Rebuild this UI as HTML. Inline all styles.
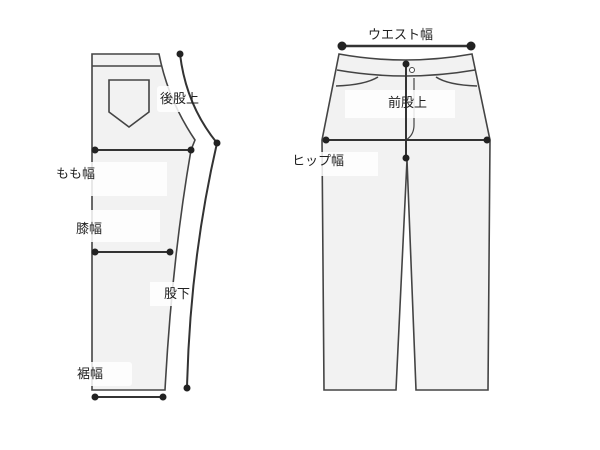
<!DOCTYPE html>
<html><head><meta charset="utf-8"><style>
html,body{margin:0;padding:0;background:#fff;width:600px;height:450px;overflow:hidden}
text{font-family:"Liberation Sans","Noto Sans CJK JP",sans-serif;font-size:13px;fill:#222}
</style></head><body>
<svg width="600" height="450" viewBox="0 0 600 450" xmlns="http://www.w3.org/2000/svg">
<g stroke="#444" stroke-width="1.6" fill="#f2f2f2">
<path d="M92,54 L159,54 Q168,100 195,140 L191,150 Q172,260 165,390 L92,390 Z"/>
<line x1="92" y1="66" x2="161" y2="66"/>
<path d="M109,80 L149,80 L149,112 L129,127 L109,112 Z" fill="none"/>
<path d="M339,54 Q405,66 472,54 L490,140 L488,390 L416,390 L407,160 L396,390 L324,390 L322,140 Z"/>
<path d="M337,70 Q405,82 475,70" fill="none"/>
<path d="M336,86 Q365,85 378,77" fill="none"/>
<path d="M436,77 Q448,85 477,86" fill="none"/>
<path d="M414,78 L414,125 Q414,135 406,140" fill="none" stroke-width="1.2"/>
<circle cx="412" cy="70" r="2.5" fill="#fff" stroke-width="1"/>
</g>
<g fill="#fff" opacity="0.85">
<rect x="157" y="86" width="88" height="26" rx="3"/>
<rect x="55" y="162" width="112" height="34"/>
<rect x="60" y="210" width="100" height="32"/>
<rect x="150" y="282" width="42" height="24"/>
<rect x="62" y="362" width="70" height="24" rx="3"/>
<rect x="345" y="90" width="110" height="28"/>
<rect x="288" y="152" width="90" height="24"/>
</g>
<g stroke="#333" stroke-width="2" fill="none">
<path d="M180,54 Q186,105 217,143 Q190,260 187,388"/>
<line x1="95" y1="150" x2="191" y2="150"/>
<line x1="95" y1="252" x2="170" y2="252"/>
<line x1="95" y1="397" x2="163" y2="397"/>
<line x1="342" y1="46" x2="471" y2="46" stroke-width="2.5"/>
<line x1="326" y1="140" x2="487" y2="140"/>
<line x1="406" y1="66" x2="406" y2="158"/>
</g>
<g fill="#222">
<circle cx="180" cy="54" r="3.5"/><circle cx="217" cy="143" r="3.5"/><circle cx="187" cy="388" r="3.5"/>
<circle cx="95" cy="150" r="3.5"/><circle cx="191" cy="150" r="3.5"/>
<circle cx="95" cy="252" r="3.5"/><circle cx="170" cy="252" r="3.5"/>
<circle cx="95" cy="397" r="3.5"/><circle cx="163" cy="397" r="3.5"/>
<circle cx="342" cy="46" r="4.5"/><circle cx="471" cy="46" r="4.5"/>
<circle cx="326" cy="140" r="3.5"/><circle cx="487" cy="140" r="3.5"/>
<circle cx="406" cy="64" r="3.5"/><circle cx="406" cy="158" r="3.5"/>
</g>
<text x="160" y="103">後股上</text>
<text x="56" y="178">もも幅</text>
<text x="76" y="233">膝幅</text>
<text x="164" y="298">股下</text>
<text x="77" y="378">裾幅</text>
<text x="368" y="39">ウエスト幅</text>
<text x="388" y="107">前股上</text>
<text x="292" y="165">ヒップ幅</text>
</svg>
</body></html>
